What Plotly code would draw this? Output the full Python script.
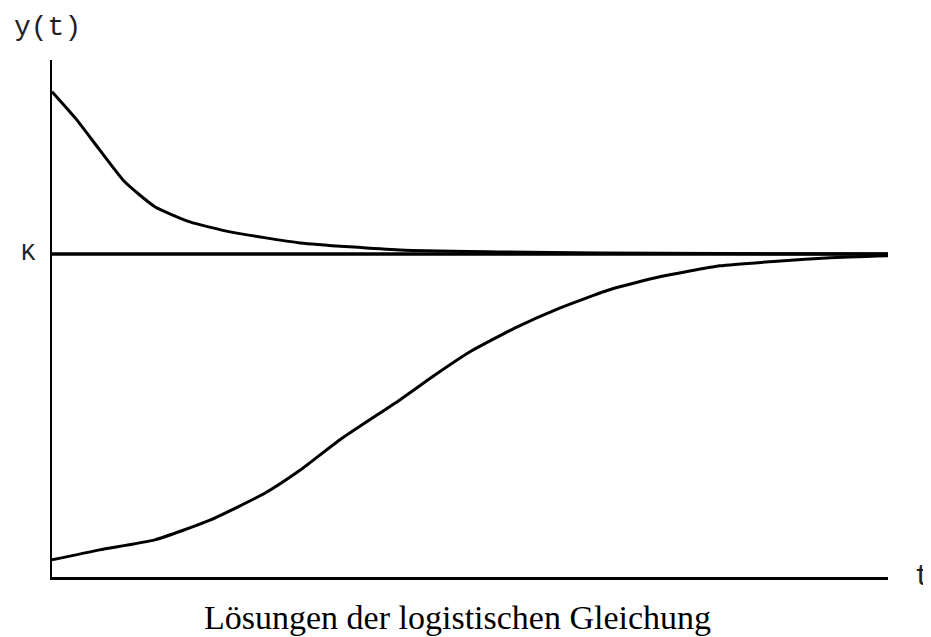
import plotly.graph_objects as go

# Data (t in arbitrary units 0..10, y in units of K)
K = 1.0
t_lower = [0.0, 0.57, 1.23, 1.89, 2.55, 2.97, 3.44, 4.16, 4.58, 5.00, 5.54, 6.08, 6.67, 7.27, 7.99, 8.71, 9.31, 10.0]
y_lower = [0.053, 0.084, 0.115, 0.176, 0.260, 0.331, 0.424, 0.548, 0.625, 0.697, 0.771, 0.833, 0.889, 0.929, 0.963, 0.978, 0.988, 0.994]

t_upper = [0.0, 0.28, 0.57, 0.87, 1.23, 1.65, 2.13, 2.97, 4.16, 5.36, 6.56, 8.0, 10.0]
y_upper = [1.502, 1.420, 1.322, 1.223, 1.146, 1.099, 1.068, 1.034, 1.012, 1.006, 1.003, 1.001, 1.000]

t_range = [0.0, 10.0]
y_max = 1.6

title_text = "Lösungen der logistischen Gleichung"
y_label = "y(t)"
x_label = "t"
k_label = "K"

fig = go.Figure()
fig.add_trace(go.Scatter(x=t_range, y=[K, K], mode="lines",
                         line=dict(color="black", width=3.5), hoverinfo="skip"))
fig.add_trace(go.Scatter(x=t_upper, y=y_upper, mode="lines",
                         line=dict(color="black", width=3, shape="spline", smoothing=0.5)))
fig.add_trace(go.Scatter(x=t_lower, y=y_lower, mode="lines",
                         line=dict(color="black", width=3, shape="spline", smoothing=0.5)))

mono = "Liberation Mono, Courier New, monospace"
# the page body adds an 8px offset, so the figure is 8px smaller than the window
fig.update_layout(
    width=923, height=629,
    margin=dict(l=44, r=43, t=52, b=60, autoexpand=False),
    paper_bgcolor="white", plot_bgcolor="white",
    showlegend=False,
    xaxis=dict(range=t_range, showgrid=False, zeroline=False, showticklabels=False,
               ticks="", showline=True, linecolor="black", linewidth=3, automargin=False),
    yaxis=dict(range=[0, y_max], showgrid=False, zeroline=False, showticklabels=False,
               ticks="", showline=True, linecolor="black", linewidth=2, automargin=False),
    annotations=[
        dict(text=y_label, xref="paper", yref="paper", x=-0.048, y=1.0, yshift=33,
             xanchor="left", yanchor="middle", showarrow=False,
             font=dict(family=mono, size=28, color="#222")),
        dict(text=k_label, xref="paper", yref="y", x=0, y=K, xshift=-14,
             xanchor="right", yanchor="middle", showarrow=False,
             font=dict(family=mono, size=24, color="#222")),
        dict(text=x_label, xref="paper", yref="y", x=1.0, y=0, xshift=24,
             xanchor="left", yanchor="middle", showarrow=False,
             font=dict(family=mono, size=30, color="#222")),
        dict(text=title_text, xref="paper", yref="paper", x=0.4856, y=0, yshift=-40,
             xanchor="center", yanchor="middle", showarrow=False,
             font=dict(family="Liberation Serif, Times New Roman, serif", size=34, color="black")),
    ],
)

fig.write_html("out.html")
